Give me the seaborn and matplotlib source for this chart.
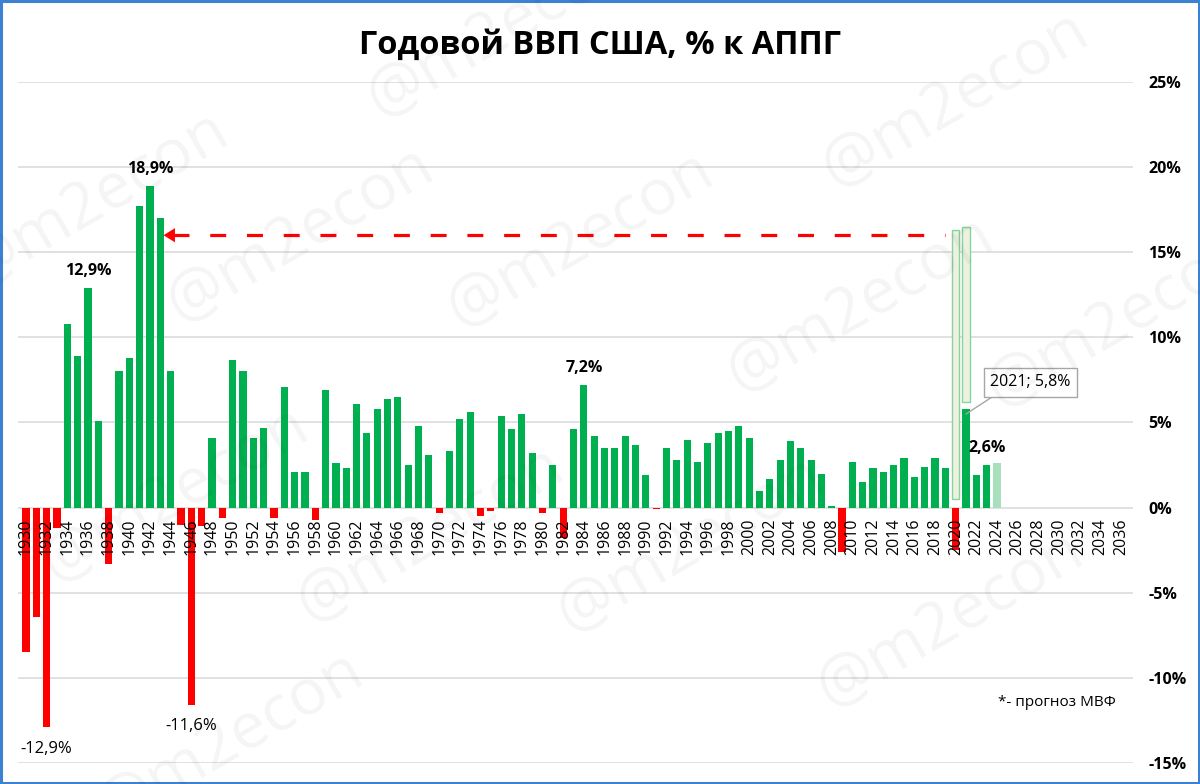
import numpy as np
import pandas as pd
import matplotlib
matplotlib.use("Agg")
import matplotlib.pyplot as plt
import seaborn as sns
from matplotlib.patches import Rectangle

# ---------------- data ----------------
years = list(range(1930, 2025))
gdp = [
    -8.5, -6.4, -12.9, -1.2, 10.8, 8.9, 12.9, 5.1, -3.3, 8.0,      # 1930-1939
    8.8, 17.7, 18.9, 17.0, 8.0, -1.0, -11.6, -1.1, 4.1, -0.6,      # 1940-1949
    8.7, 8.0, 4.1, 4.7, -0.6, 7.1, 2.1, 2.1, -0.7, 6.9,            # 1950-1959
    2.6, 2.3, 6.1, 4.4, 5.8, 6.4, 6.5, 2.5, 4.8, 3.1,              # 1960-1969
    -0.3, 3.3, 5.2, 5.6, -0.5, -0.2, 5.4, 4.6, 5.5, 3.2,           # 1970-1979
    -0.3, 2.5, -1.8, 4.6, 7.2, 4.2, 3.5, 3.5, 4.2, 3.7,            # 1980-1989
    1.9, -0.1, 3.5, 2.8, 4.0, 2.7, 3.8, 4.4, 4.5, 4.8,             # 1990-1999
    4.1, 1.0, 1.7, 2.8, 3.9, 3.5, 2.8, 2.0, 0.1, -2.6,             # 2000-2009
    2.7, 1.5, 2.3, 2.1, 2.5, 2.9, 1.8, 2.4, 2.9, 2.3,              # 2010-2019
    -2.5, 5.8, 1.9, 2.5, 2.6,                                      # 2020-2024
]
forecast_years = [2024]
axis_years = list(range(1930, 2037, 2))
y_ticks = [-15, -10, -5, 0, 5, 10, 15, 20, 25]

pos_label_years = [1936, 1942, 1984]
neg_label_years = [1932, 1946]
forecast_label_year = 2024
callout_year = 2021

hl_years = [2020, 2021]
hl_low = [0.5, 6.2]
hl_high = [16.3, 16.5]

arrow_level = 16.0
arrow_from = 2019.0
arrow_to = 1943

title = "Годовой ВВП США, % к АППГ"
footnote = "*- прогноз МВФ"
watermark = "@m2econ"

# ---------------- styling ----------------
GREEN = "#00B050"
RED = "#FF0000"
LIGHT = "#A8E0BE"
palette = {"pos": GREEN, "neg": RED, "forecast": LIGHT}

df = pd.DataFrame({"year": years, "gdp": gdp})
df["kind"] = np.where(df["year"].isin(forecast_years), "forecast",
                      np.where(df["gdp"] < 0, "neg", "pos"))
value_of = dict(zip(years, gdp))

sns.set_style("white")
plt.rcParams["font.family"] = ["Open Sans", "DejaVu Sans"]
plt.rcParams["text.color"] = "black"


def fmt(v):
    return f"{v:.1f}".replace(".", ",") + "%"


fig = plt.figure(figsize=(12, 7.84), dpi=100)
ax = fig.add_axes([0.015, 0.0268, 0.9292, 0.8686])

for t in y_ticks:
    ax.axhline(t, color="#D9D9D9", lw=1.1, zorder=0)

sns.barplot(data=df, x="year", y="gdp", hue="kind", palette=palette,
            native_scale=True, dodge=False, width=0.7, errorbar=None,
            saturation=1, legend=False, linewidth=0, ax=ax)

# highlighted outline bars 2020/2021
ax.bar(hl_years, np.array(hl_high) - np.array(hl_low), bottom=hl_low,
       width=0.7, color="#EEF1DF", edgecolor="#86D59E", linewidth=1.0, zorder=1.2)

ax.set_xlim(1929.23, 2037.16)
ax.set_ylim(-15, 25)
for s in ax.spines.values():
    s.set_visible(False)
ax.spines["bottom"].set_position(("data", 0))
ax.set_axisbelow(False)

ax.set_xticks(axis_years)
ax.set_xticklabels([str(y) for y in axis_years], rotation=90, fontsize=11.5)
ax.tick_params(axis="x", length=0, pad=8, colors="black")
ax.yaxis.tick_right()
ax.set_yticks(y_ticks)
ax.set_yticklabels([f"{t}%" for t in y_ticks], fontsize=11.5, fontweight="bold")
ax.tick_params(axis="y", length=0, pad=11, colors="black")
ax.set_xlabel("")
ax.set_ylabel("")

# value labels
for y in pos_label_years:
    v = value_of[y]
    ax.text(y, v + 1.0, fmt(v), ha="center", va="center", fontsize=11.5,
            fontweight="bold", zorder=5)
for y in neg_label_years:
    v = value_of[y]
    ax.text(y, v - 1.25, fmt(v), ha="center", va="center", fontsize=12,
            zorder=5)
v = value_of[forecast_label_year]
ax.text(forecast_label_year - 1.0, v + 0.9, fmt(v), ha="center", va="center",
        fontsize=11.5, fontweight="bold", zorder=5)

# callout
v = value_of[callout_year]
ax.annotate(f"{callout_year}; {fmt(v)}", xy=(callout_year, v - 0.3),
            xytext=(callout_year + 6.2, v + 1.55), ha="center", va="center",
            fontsize=11.5, zorder=6,
            bbox=dict(boxstyle="square,pad=0.4", fc="white", ec="#A6A6A6", lw=1),
            arrowprops=dict(arrowstyle="-", color="#A6A6A6", lw=1,
                            relpos=(0.15, 0.0), shrinkA=0, shrinkB=0))

# dashed arrow
ax.plot([arrow_to + 1.2, arrow_from - 0.05], [arrow_level, arrow_level],
        color=RED, lw=2.3, dashes=(5, 6.5), zorder=4, dash_capstyle="butt")
ax.annotate("", xy=(arrow_to + 0.32, arrow_level), xytext=(arrow_to + 1.3, arrow_level),
            arrowprops=dict(arrowstyle="-|>,head_length=0.45,head_width=0.28",
                            color=RED, lw=0.1, mutation_scale=18,
                            shrinkA=0, shrinkB=0), zorder=4)

# title & footnote
fig.text(0.5, 1 - 45 / 784, title, ha="center", va="center", fontsize=23.5,
         fontweight="bold", color="black")
fig.text(998 / 1200, 1 - 703 / 784, footnote, ha="left", va="center", fontsize=11,
         color="black")

# watermarks (partly cut at the picture edges, as in the original)
wm_pos = [(95, 200), (300, 235), (500, 30), (580, 240), (955, 100), (860, 305),
          (1120, 320), (175, 495), (430, 535), (690, 545), (950, 620), (230, 740)]
for (px, py) in wm_pos:
    fig.text(px / 1200, 1 - py / 784, watermark, rotation=30, ha="center",
             va="center", fontsize=46, color="black", alpha=0.045, zorder=10)

# frame
fig.patches.append(Rectangle((0.001, 0.001), 0.998, 0.998, transform=fig.transFigure,
                             fill=False, ec="#3C82D2", lw=2.2))

fig.savefig("out.png", dpi=100)
